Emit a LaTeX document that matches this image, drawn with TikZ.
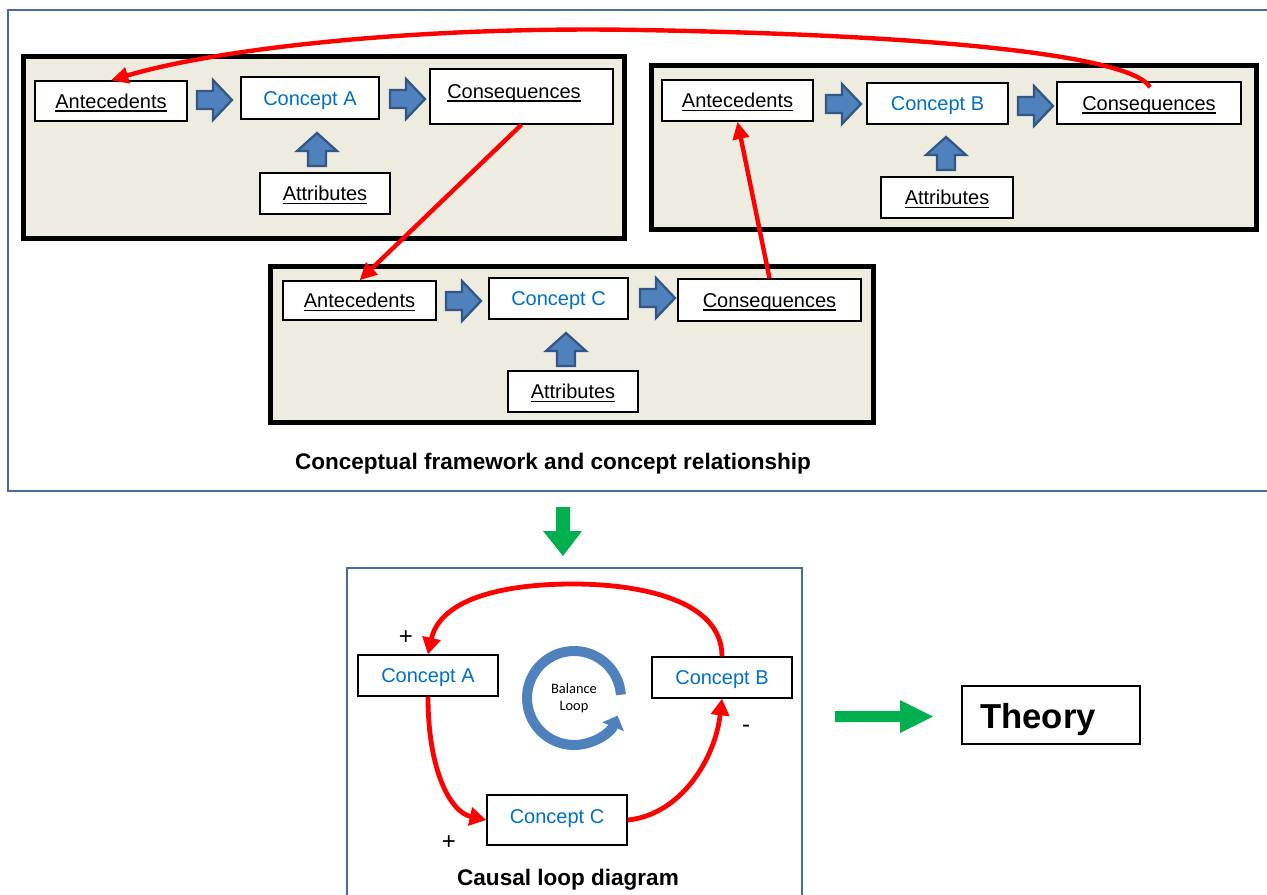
\documentclass[tikz,border=0pt]{standalone}
\usepackage{fontspec}
\setmainfont{Liberation Sans}
\newfontfamily\calib{Carlito}
\usetikzlibrary{arrows.meta,calc}
\newdimen\pxu \pxu=0.75pt
\definecolor{framecol}{RGB}{72,106,156}
\definecolor{beige}{RGB}{238,236,225}
\definecolor{txtblue}{RGB}{0,112,192}
\definecolor{arrfill}{RGB}{79,129,189}
\definecolor{arrdraw}{RGB}{52,86,130}
\definecolor{loopblue}{RGB}{79,129,189}
\definecolor{msgreen}{RGB}{0,176,80}
\newcommand\myul[1]{\setbox0\hbox{#1}\leavevmode\rlap{\rule[-2.6pt]{\wd0}{1.1pt}}\box0}
\begin{document}
\begin{tikzpicture}[x=0.75pt,y=-0.75pt,
  outerframe/.style={draw=framecol, line width=1.5pt},
  blockbox/.style={draw=black, line width=3.75pt, fill=beige},
  cbox/.style={draw=black, line width=1pt, fill=white, inner sep=0pt, text height=13pt, text depth=2.3pt, font=\fontsize{15}{18}\selectfont},
  bluetxt/.style={text=txtblue},
  labtxt/.style={inner sep=0pt, text height=13pt, text depth=2.3pt, font=\fontsize{15}{18}\selectfont},
  signtxt/.style={inner sep=0pt, font=\fontsize{18}{20}\selectfont},
  captext/.style={inner sep=0pt, text height=14pt, text depth=1.9pt, font=\fontsize{16.9}{20}\selectfont\bfseries},
  redarr/.style={draw=red, line width=3.3pt, -{Triangle[length=13pt,width=12pt]}},
  loopred/.style={draw=red, line width=3.6pt, -{Triangle[length=12.5pt,width=13.5pt]}},
  barr/.style={fill=arrfill, draw=arrdraw, line width=1.7pt},
  rarrow/.pic={\path[barr] (0,-9)--(16,-9)--(16,-20)--(35,0)--(16,20)--(16,9)--(0,9)--cycle;},
  uarrow/.pic={\path[barr] (-9,0)--(-9,-15)--(-20,-15)--(0,-33)--(20,-15)--(9,-15)--(9,0)--cycle;}
]
\useasboundingbox (0,0) rectangle (1267,895);
\clip (0,0) rectangle (1267,895);

% frames
\draw[outerframe] (8,10) rectangle (1280,491);
\draw[outerframe] (347,568) rectangle (802,910);

% block A
\draw[blockbox] (23,57) rectangle (624,238);
\node[cbox, minimum width=152\pxu, minimum height=40\pxu] (antA) at (111,101) {\myul{Antecedents}};
\node[cbox, bluetxt, minimum width=138\pxu, minimum height=42\pxu] (conA) at (310,98) {Concept A};
\node[cbox, minimum width=183\pxu, minimum height=55\pxu] (consA) at (521.5,96.5) {};
\node[labtxt] (consAt) at (514,91) {\myul{Consequences}};
\node[cbox, minimum width=130\pxu, minimum height=41\pxu] (attA) at (325,193.5) {\myul{Attributes}};
\pic at (197,100) {rarrow};
\pic at (390,99) {rarrow};
\pic at (317,166) {uarrow};

% block B
\draw[blockbox] (651,66) rectangle (1256,229);
\node[cbox, minimum width=151\pxu, minimum height=41\pxu] (antB) at (737.5,100.5) {\myul{Antecedents}};
\node[cbox, bluetxt, minimum width=141\pxu, minimum height=41\pxu] (conB) at (937.5,103.5) {Concept B};
\node[cbox, minimum width=184\pxu, minimum height=42\pxu] (consB) at (1149,103) {\myul{Consequences}};
\node[cbox, minimum width=132\pxu, minimum height=41\pxu] (attB) at (947,197.5) {\myul{Attributes}};
\pic at (826,104) {rarrow};
\pic at (1018,106) {rarrow};
\pic at (946,170) {uarrow};

% block C
\draw[blockbox] (270,266) rectangle (873,422);
\node[cbox, minimum width=153\pxu, minimum height=39\pxu] (antC) at (359.5,300.5) {\myul{Antecedents}};
\node[cbox, bluetxt, minimum width=139\pxu, minimum height=41\pxu] (conC) at (558.5,298.5) {Concept C};
\node[cbox, minimum width=183\pxu, minimum height=42\pxu] (consC) at (769.5,300) {\myul{Consequences}};
\node[cbox, minimum width=130\pxu, minimum height=41\pxu] (attC) at (573,391.5) {\myul{Attributes}};
\pic at (446,301) {rarrow};
\pic at (640,298) {rarrow};
\pic at (566,366) {uarrow};

% red connectors (top)
\draw[redarr] ($(consB.north)+(1,6)$) .. controls (1135,60) and (980,36) .. (640,30)
  .. controls (420,26) and (220,48) .. (antA.north);
\draw[redarr] (consA.south) -- (antC.north);
\draw[redarr] (consC.north) -- (antB.south);

\node[captext] (cap1) at (553,461) {Conceptual framework and concept relationship};

% green arrows
\fill[msgreen] (556,507)--(570,507)--(570,531)--(582,531)--(563,556)--(543,531)--(556,531)--cycle;
\fill[msgreen] (835,711)--(900,711)--(900,700)--(933,716.5)--(900,733)--(900,722)--(835,722)--cycle;

% causal loop
\node[cbox, bluetxt, minimum width=140\pxu, minimum height=41\pxu] (cA) at (428,675.5) {Concept A};
\node[cbox, bluetxt, minimum width=140\pxu, minimum height=41\pxu] (cB) at (722,677.5) {Concept B};
\node[cbox, bluetxt, text depth=8.3pt, minimum width=140\pxu, minimum height=50\pxu] (cC) at (557,820) {Concept C};

\draw[loopred] (cB.north) .. controls (722,600) and (640,584) .. (573,584)
  .. controls (500,584) and (440,600) .. (cA.north);
\draw[loopred] (cA.south) .. controls (428,770) and (450,812) .. (cC.west);
\draw[loopred] (cC.east) .. controls (680,815) and (715,760) .. (cB.south);

\node[signtxt] (pA) at (406,638) {+};
\node[signtxt] (pC) at (449,843) {+};
\node[signtxt] (mB) at (746,729) {-};

\draw[loopblue, line width=7.5pt, -{Triangle[length=9pt,width=17pt]}]
  (574,698) ++(-4:47) arc[start angle=-4, end angle=-338, radius=47];
\node[align=center, inner sep=0pt, font=\calib\fontsize{10.8}{12.75}\selectfont] (bl) at (574,698) {Balance\\Loop};

\node[captext] (cap2) at (568,877) {Causal loop diagram};

% theory
\node[draw=black, line width=1.1pt, minimum width=178\pxu, minimum height=58\pxu] (theory) at (1051,715) {};
\node[inner sep=0pt, text height=21pt, text depth=2.4pt, font=\fontsize{26}{30}\selectfont\bfseries] (theoryt) at (1038,716) {Theory};
\end{tikzpicture}
\end{document}
